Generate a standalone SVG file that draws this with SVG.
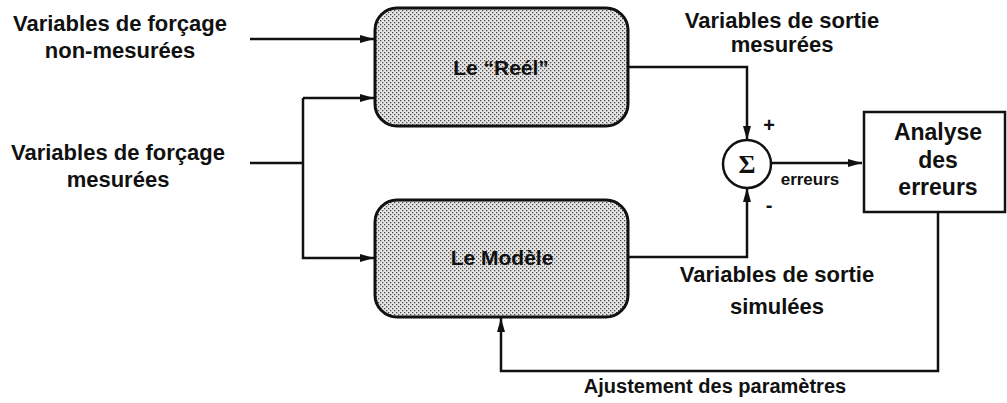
<svg xmlns="http://www.w3.org/2000/svg" width="1007" height="403" viewBox="0 0 1007 403">
<style>
text{font-family:"Liberation Sans",Arial,sans-serif;font-weight:bold;fill:#111;text-anchor:middle}
.lbl{font-size:22px}
.box{fill:url(#stip);stroke:#111;stroke-width:3}
.wire{fill:none;stroke:#111;stroke-width:2.5}
</style>
<defs>
<pattern id="stip" width="4" height="4" patternUnits="userSpaceOnUse">
<rect width="4" height="4" fill="#e6e6e6"/>
<rect x="0" y="0" width="1.3" height="1.3" fill="#4a4a4a"/>
<rect x="2" y="2" width="1.3" height="1.3" fill="#4a4a4a"/>
</pattern>
<marker id="arr" viewBox="0 0 14 8" refX="14" refY="4" markerWidth="14" markerHeight="8" markerUnits="userSpaceOnUse" orient="auto">
<path d="M0,0 L14,4 L0,8 Z" fill="#111"/>
</marker>
</defs>
<g id="connectors">
<path class="wire" d="M250,39 H374" marker-end="url(#arr)"/>
<path class="wire" d="M303,98 H374" marker-end="url(#arr)"/>
<path class="wire" d="M250,163 H303"/>
<path class="wire" d="M303,98 V258 H374" marker-end="url(#arr)"/>
<path class="wire" d="M628,67 H747 V140" marker-end="url(#arr)"/>
<path class="wire" d="M628,257 H747 V188" marker-end="url(#arr)"/>
<path class="wire" d="M771,163 H862" marker-end="url(#arr)"/>
<path class="wire" d="M938,212 V371 H501 V318" marker-end="url(#arr)"/>
</g>
<g id="label-nonmesurees">
<text class="lbl" x="120" y="31">Variables de forçage</text>
<text class="lbl" x="120" y="58">non-mesurées</text>
</g>
<g id="label-mesurees">
<text class="lbl" x="118" y="160">Variables de forçage</text>
<text class="lbl" x="118" y="187">mesurées</text>
</g>
<g id="node-reel">
<rect class="box" x="375" y="8" width="253" height="118" rx="22"/>
<text x="501" y="75" style="font-size:21px">Le “Reél”</text>
</g>
<g id="node-modele">
<rect class="box" x="375" y="200" width="253" height="117" rx="22"/>
<text x="502" y="265" style="font-size:21px">Le Modèle</text>
</g>
<g id="node-sum">
<circle cx="747" cy="164" r="24" fill="#fff" stroke="#111" stroke-width="2.5"/>
<text x="747" y="173" style="font-family:'Liberation Serif','Times New Roman',serif;font-weight:bold;font-size:26px">Σ</text>
<text x="769" y="132" style="font-size:20px">+</text>
<text x="769" y="212" style="font-size:20px">-</text>
<text x="810" y="185" style="font-size:17px">erreurs</text>
</g>
<g id="node-analyse">
<rect x="864" y="112" width="141" height="100" fill="#fff" stroke="#111" stroke-width="2.5"/>
<text x="938" y="140" style="font-size:23px">Analyse</text>
<text x="938" y="168" style="font-size:23px">des</text>
<text x="938" y="195" style="font-size:23px">erreurs</text>
</g>
<g id="label-sortie-mesurees">
<text class="lbl" x="782" y="28">Variables de sortie</text>
<text class="lbl" x="782" y="52">mesurées</text>
</g>
<g id="label-sortie-simulees">
<text class="lbl" x="777" y="282">Variables de sortie</text>
<text class="lbl" x="777" y="314">simulées</text>
</g>
<g id="label-ajustement">
<text x="715" y="393" style="font-size:20px">Ajustement des paramètres</text>
</g>
</svg>
